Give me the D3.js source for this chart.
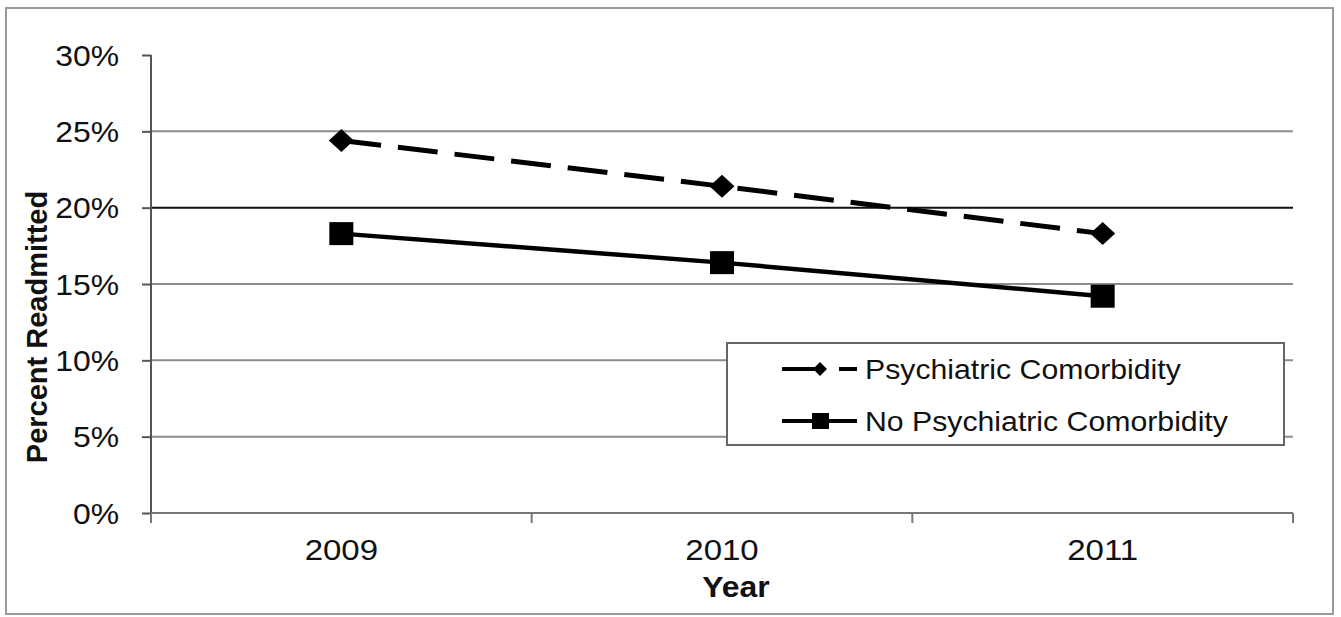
<!DOCTYPE html>
<html>
<head>
<meta charset="utf-8">
<script src="https://cdn.jsdelivr.net/npm/d3@7"></script>
<style>
  html, body { margin: 0; padding: 0; background: #fff; }
  svg { display: block; font-family: "Liberation Sans", Arial, sans-serif; }
</style>
</head>
<body>
<svg id="chart" width="1341" height="617"></svg>
<script>
// ---- data ----
const years = ["2009", "2010", "2011"];
const psychValues = [24.4, 21.4, 18.3];
const noPsychValues = [18.3, 16.4, 14.2];
const yTickValues = [0, 5, 10, 15, 20, 25, 30];
const seriesNames = ["Psychiatric Comorbidity", "No Psychiatric Comorbidity"];
const yTitle = "Percent Readmitted";
const xTitle = "Year";

// ---- layout ----
const svg = d3.select("#chart");
const plot = { left: 151, right: 1293, top: 55, bottom: 513 };
const sx = 1.1; // horizontal stretch of the reference text

svg.append("rect")
  .attr("x", 6).attr("y", 8).attr("width", 1327).attr("height", 606)
  .attr("fill", "#fff").attr("stroke", "#9a9a9a").attr("stroke-width", 2);

const x = d3.scaleBand().domain(years).range([plot.left, plot.right]).padding(0);
const y = d3.scaleLinear().domain([0, 30]).range([plot.bottom, plot.top]);
const cx = d => x(d) + x.bandwidth() / 2;

// gridlines (none at the top value, as in the reference)
svg.append("g").selectAll("line")
  .data(yTickValues.filter(v => v > 0 && v < 30))
  .join("line")
  .attr("x1", plot.left).attr("x2", plot.right)
  .attr("y1", d => y(d)).attr("y2", d => y(d))
  .attr("stroke", d => d === 20 ? "#111" : "#8c8c8c")
  .attr("stroke-width", 2);

// y axis
const yAxis = svg.append("g")
  .attr("transform", `translate(${plot.left},0)`)
  .call(d3.axisLeft(y).tickValues(yTickValues).tickSize(9).tickFormat(d => d + "%"));
yAxis.select(".domain").attr("stroke", "#555").attr("stroke-width", 2)
  .attr("d", `M0,${plot.top}V${plot.bottom + 10}`);
yAxis.selectAll(".tick line").attr("stroke", "#555").attr("stroke-width", 2);
yAxis.selectAll(".tick text")
  .attr("x", 0).attr("dy", null).attr("y", 0)
  .attr("font-size", 29).attr("fill", "#111")
  .attr("font-family", "'Liberation Sans', Arial, sans-serif")
  .attr("text-anchor", "end")
  .attr("transform", `translate(-32,10) scale(${sx},1)`);

// x axis
const xAxis = svg.append("g")
  .attr("transform", `translate(0,${plot.bottom})`)
  .call(d3.axisBottom(x).tickSize(0).tickPadding(0));
xAxis.select(".domain").attr("stroke", "#777").attr("stroke-width", 2)
  .attr("d", `M${plot.left},0H${plot.right}`);
xAxis.selectAll(".tick text")
  .attr("y", 0).attr("dy", null)
  .attr("font-size", 30).attr("fill", "#111")
  .attr("font-family", "'Liberation Sans', Arial, sans-serif")
  .attr("transform", `translate(0,47) scale(${sx},1)`);
// boundary tick marks (between categories)
const boundaries = years.map(d => x(d)).concat([x(years[years.length - 1]) + x.bandwidth()]);
xAxis.append("g").selectAll("line")
  .data(boundaries)
  .join("line")
  .attr("x1", d => d).attr("x2", d => d)
  .attr("y1", 0).attr("y2", 10)
  .attr("stroke", "#777").attr("stroke-width", 2);

// axis titles
svg.append("text")
  .attr("transform", `translate(736,597) scale(${sx},1)`)
  .attr("text-anchor", "middle")
  .attr("font-size", 29).attr("font-weight", "bold").attr("fill", "#111")
  .text(xTitle);
svg.append("text")
  .attr("transform", `translate(47,327) rotate(-90)`)
  .attr("text-anchor", "middle")
  .attr("font-size", 29).attr("font-weight", "bold").attr("fill", "#111")
  .text(yTitle);

// lines
const line = d3.line().x(d => cx(d.year)).y(d => y(d.value));
const psychData = years.map((yr, i) => ({ year: yr, value: psychValues[i] }));
const noPsychData = years.map((yr, i) => ({ year: yr, value: noPsychValues[i] }));

svg.append("path").datum(psychData)
  .attr("d", line).attr("fill", "none")
  .attr("stroke", "#000").attr("stroke-width", 5)
  .attr("stroke-dasharray", "40,17");
svg.append("path").datum(noPsychData)
  .attr("d", line).attr("fill", "none")
  .attr("stroke", "#000").attr("stroke-width", 4.5);

const diamond = (w, h) => `M0,${-h}L${w},0L0,${h}L${-w},0Z`;

svg.append("g").selectAll("path")
  .data(psychData).join("path")
  .attr("transform", d => `translate(${cx(d.year)},${y(d.value)})`)
  .attr("d", diamond(12.5, 11.5)).attr("fill", "#000");

svg.append("g").selectAll("rect")
  .data(noPsychData).join("rect")
  .attr("x", d => cx(d.year) - 12).attr("y", d => y(d.value) - 11.5)
  .attr("width", 24).attr("height", 23).attr("fill", "#000");

// legend
const lg = svg.append("g");
lg.append("rect")
  .attr("x", 727).attr("y", 343).attr("width", 557).attr("height", 102)
  .attr("fill", "#fff").attr("stroke", "#666").attr("stroke-width", 2);

const rows = [
  { name: seriesNames[0], y: 369, dash: "40,17", marker: "diamond" },
  { name: seriesNames[1], y: 421, dash: null, marker: "square" }
];
rows.forEach(r => {
  lg.append("line")
    .attr("x1", 782).attr("x2", 857).attr("y1", r.y).attr("y2", r.y)
    .attr("stroke", "#000").attr("stroke-width", 4)
    .attr("stroke-dasharray", r.dash);
  if (r.marker === "diamond") {
    lg.append("path").attr("transform", `translate(820,${r.y})`)
      .attr("d", diamond(7, 7)).attr("fill", "#000");
  } else {
    lg.append("rect").attr("x", 812).attr("y", r.y - 8)
      .attr("width", 17).attr("height", 16).attr("fill", "#000");
  }
  lg.append("text")
    .attr("transform", `translate(865,${r.y + 10}) scale(${sx},1)`)
    .attr("font-size", 27.5).attr("fill", "#111")
    .text(r.name);
});
</script>
</body>
</html>
